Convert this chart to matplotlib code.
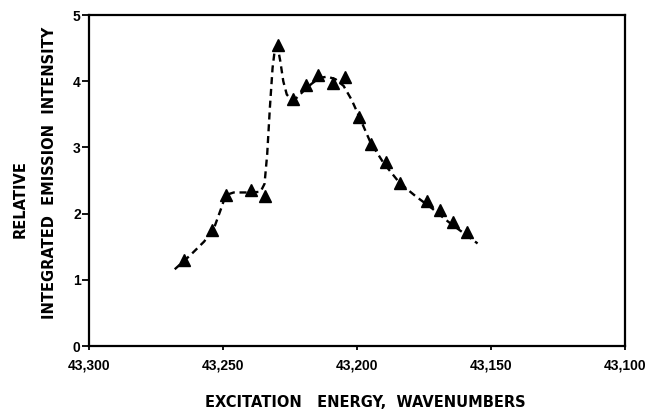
import numpy as np
import matplotlib
matplotlib.use('Agg')
import matplotlib.pyplot as plt

plt.rcParams['font.family'] = ['Liberation Sans', 'DejaVu Sans']
plt.rcParams['font.weight'] = 'bold'

# measured points (triangles)
energy = [43264.5, 43254, 43249, 43239.5, 43234.5, 43229.3, 43224, 43219,
          43214.4, 43209, 43204.3, 43199.4, 43194.6, 43189, 43184,
          43174, 43169, 43164.3, 43159]
intensity = [1.30, 1.75, 2.28, 2.35, 2.27, 4.55, 3.73, 3.95,
             4.10, 3.97, 4.06, 3.46, 3.05, 2.78, 2.47,
             2.19, 2.05, 1.87, 1.72]

# hand-drawn dashed curve through the points
curve_energy = [43268, 43262, 43257, 43253, 43250.5, 43249, 43246, 43240,
                43236, 43234.5, 43233.5, 43232.5, 43231.5, 43230.6, 43229.6,
                43228.6, 43227.5, 43226.2, 43224.5, 43222.5, 43220, 43217,
                43214, 43211, 43208, 43205, 43202, 43199, 43195, 43190,
                43184, 43178, 43172, 43166, 43160, 43155]
curve_intensity = [1.16, 1.38, 1.58, 1.82, 2.10, 2.28, 2.32, 2.32,
                   2.33, 2.45, 2.90, 3.60, 4.20, 4.50, 4.52,
                   4.30, 4.00, 3.80, 3.72, 3.75, 3.85, 3.96,
                   4.05, 4.07, 4.03, 3.93, 3.72, 3.45, 3.08, 2.76,
                   2.46, 2.26, 2.08, 1.88, 1.70, 1.55]

xticks = [43300, 43250, 43200, 43150, 43100]
xticklabels = ['43,300', '43,250', '43,200', '43,150', '43,100']
yticks = [0, 1, 2, 3, 4, 5]

fig = plt.figure(figsize=(6.51, 4.11), dpi=100)
ax = fig.add_axes([0.1367, 0.158, 0.8233, 0.8054])

ax.plot(curve_energy, curve_intensity, color='black', lw=1.7,
        linestyle=(0, (3.0, 2.0)))
ax.plot(energy, intensity, linestyle='none', marker='^', markersize=8,
        color='black')

ax.set_xlim(43300, 43100)
ax.set_ylim(0, 5)
ax.set_xticks(xticks)
ax.set_xticklabels(xticklabels)
ax.set_yticks(yticks)
ax.tick_params(axis='both', direction='out', width=1.3, labelsize=10)
ax.tick_params(axis='y', length=5, pad=1)
ax.tick_params(axis='x', length=3, pad=6)
for s in ax.spines.values():
    s.set_linewidth(1.6)

label_font = dict(family='DejaVu Sans', fontsize=10.5, fontweight='bold')
fig.text(365 / 651, 1 - 402 / 411, 'EXCITATION   ENERGY,  WAVENUMBERS',
         ha='center', va='center', **label_font)
fig.text(20 / 651, 1 - 199 / 411, 'RELATIVE', rotation=90, ha='center',
         va='center', **label_font)
fig.text(50 / 651, 1 - 173 / 411, 'INTEGRATED  EMISSION  INTENSITY',
         rotation=90, ha='center', va='center', **label_font)

fig.savefig('out.png', dpi=100)
